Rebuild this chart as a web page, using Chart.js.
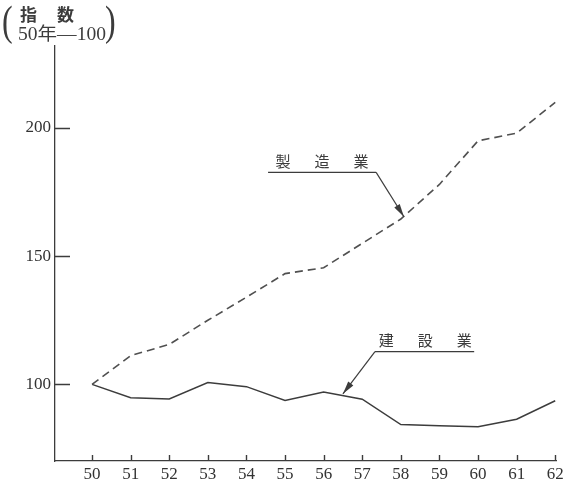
<!DOCTYPE html>
<html>
<head>
<meta charset="utf-8">
<script src="https://cdn.jsdelivr.net/npm/chart.js@4/dist/chart.umd.min.js"></script>
<style>
  html, body { margin: 0; padding: 0; background: #fff; }
</style>
</head>
<body>
<canvas id="chart" width="563" height="485"></canvas>
<script>
// --- Data (index, 昭和50年 = 100) ---
const years = [50, 51, 52, 53, 54, 55, 56, 57, 58, 59, 60, 61, 62];
const manufacturing = [100, 111.2, 115.6, 125, 134, 143.2, 145.5, 155, 164.5, 178, 195, 198, 210];
const construction = [100, 94.8, 94.3, 100.7, 99.1, 93.7, 97, 94.2, 84.3, 83.9, 83.5, 86.4, 93.6];
const yTicks = [100, 150, 200];
const seriesNames = ['製造業', '建設業'];
const titleTop = ['指', '数'];
const titleBottom = '50年—100';

const ink = '#3c3c3c';
const serif = "'Liberation Serif', 'DejaVu Serif', serif";
const cjk = "'Noto Sans CJK JP', sans-serif";

// callout labels, placed in data units (year, index)
const callouts = [
    { name: seriesNames[0], text: [55.96, 186.9], line: [54.56, 57.36, 182.7], from: 57.36, tip: [58.08, 165.4] },
    { name: seriesNames[1], text: [58.63, 117.0], line: [57.33, 59.9, 112.8], from: 57.33, tip: [56.5, 96.3] },
];

/**
 * Draws inward tick marks, the axis title and the callouts.
 */
const decorations = {
    id: 'decorations',
    afterDraw(chart) {
        const { ctx, chartArea, scales } = chart;
        const xs = scales.x, ys = scales.y;
        ctx.save();
        ctx.strokeStyle = ink;
        ctx.fillStyle = ink;
        ctx.lineWidth = 1.4;

        // inward ticks
        ctx.beginPath();
        years.forEach(v => {
            const px = Math.round(xs.getPixelForValue(v)) + 0.5;
            ctx.moveTo(px, chartArea.bottom);
            ctx.lineTo(px, chartArea.bottom - 6);
        });
        yTicks.forEach(v => {
            const py = Math.round(ys.getPixelForValue(v)) + 0.5;
            ctx.moveTo(chartArea.left, py);
            ctx.lineTo(chartArea.left + 15, py);
        });
        ctx.stroke();

        // axis title: (指 数 / 50年—100)
        ctx.textBaseline = 'middle';
        ctx.textAlign = 'left';
        ctx.font = `40px ${serif}`;
        ctx.save();
        ctx.translate(2, 24);
        ctx.scale(0.8, 1.05);
        ctx.fillText('(', 0, 0);
        ctx.restore();
        ctx.save();
        ctx.translate(105, 24);
        ctx.scale(0.8, 1.05);
        ctx.fillText(')', 0, 0);
        ctx.restore();

        ctx.font = `bold 17px ${cjk}`;
        ctx.fillText(titleTop[0], 20, 15);
        ctx.fillText(titleTop[1], 57, 15);

        ctx.font = `18px ${serif}, ${cjk}`;
        const w = ctx.measureText(titleBottom).width;
        ctx.save();
        ctx.translate(18, 35);
        ctx.scale(88 / w, 1);
        ctx.fillText(titleBottom, 0, 0);
        ctx.restore();

        // callouts
        callouts.forEach(c => {
            const cx = xs.getPixelForValue(c.text[0]);
            const cy = ys.getPixelForValue(c.text[1]);
            ctx.font = `15px ${cjk}`;
            ctx.textAlign = 'center';
            [...c.name].forEach((ch, i) => ctx.fillText(ch, cx + (i - 1) * 39, cy));

            const ly = ys.getPixelForValue(c.line[2]);
            ctx.lineWidth = 1.2;
            ctx.beginPath();
            ctx.moveTo(xs.getPixelForValue(c.line[0]), ly);
            ctx.lineTo(xs.getPixelForValue(c.line[1]), ly);
            ctx.stroke();

            const sx = xs.getPixelForValue(c.from);
            const tx = xs.getPixelForValue(c.tip[0]);
            const ty = ys.getPixelForValue(c.tip[1]);
            ctx.beginPath();
            ctx.moveTo(sx, ly);
            ctx.lineTo(tx, ty);
            ctx.stroke();

            // arrow head
            const ang = Math.atan2(ty - ly, tx - sx);
            const len = 13, half = 3.2;
            ctx.beginPath();
            ctx.moveTo(tx, ty);
            ctx.lineTo(tx - len * Math.cos(ang) + half * Math.sin(ang), ty - len * Math.sin(ang) - half * Math.cos(ang));
            ctx.lineTo(tx - len * Math.cos(ang) - half * Math.sin(ang), ty - len * Math.sin(ang) + half * Math.cos(ang));
            ctx.closePath();
            ctx.fill();
        });
        ctx.restore();
    }
};

const tickFont = { family: serif, size: 17 };

new Chart(document.getElementById('chart'), {
    type: 'line',
    data: {
        datasets: [
            {
                label: seriesNames[0],
                data: years.map((yr, i) => ({ x: yr, y: manufacturing[i] })),
                borderColor: '#505050',
                borderWidth: 1.6,
                borderDash: [8, 5],
                pointRadius: 0,
                tension: 0,
            },
            {
                label: seriesNames[1],
                data: years.map((yr, i) => ({ x: yr, y: construction[i] })),
                borderColor: ink,
                borderWidth: 1.5,
                pointRadius: 0,
                tension: 0,
            },
        ]
    },
    options: {
        responsive: false,
        animation: false,
        layout: { padding: { top: 46, right: 7, left: 0, bottom: 0 } },
        plugins: {
            legend: { display: false },
            tooltip: { enabled: false },
        },
        scales: {
            x: {
                type: 'linear',
                min: 49.04,
                max: 62.02,
                grid: { display: false, drawTicks: false },
                border: { display: true, color: ink, width: 1.3 },
                ticks: { font: tickFont, color: '#333', padding: 3, maxRotation: 0, autoSkip: false },
                afterBuildTicks: s => { s.ticks = years.map(v => ({ value: v })); },
                afterFit: s => { s.height = 24; s.paddingLeft = 0; s.paddingRight = 0; },
            },
            y: {
                type: 'linear',
                min: 70.1,
                max: 232,
                grid: { display: false, drawTicks: false },
                border: { display: true, color: ink, width: 1.3 },
                ticks: { font: tickFont, color: '#333', padding: 4 },
                afterBuildTicks: s => { s.ticks = yTicks.map(v => ({ value: v })); },
                afterFit: s => { s.width = 55; s.paddingTop = 0; s.paddingBottom = 0; },
            }
        }
    },
    plugins: [decorations]
});
</script>
</body>
</html>
